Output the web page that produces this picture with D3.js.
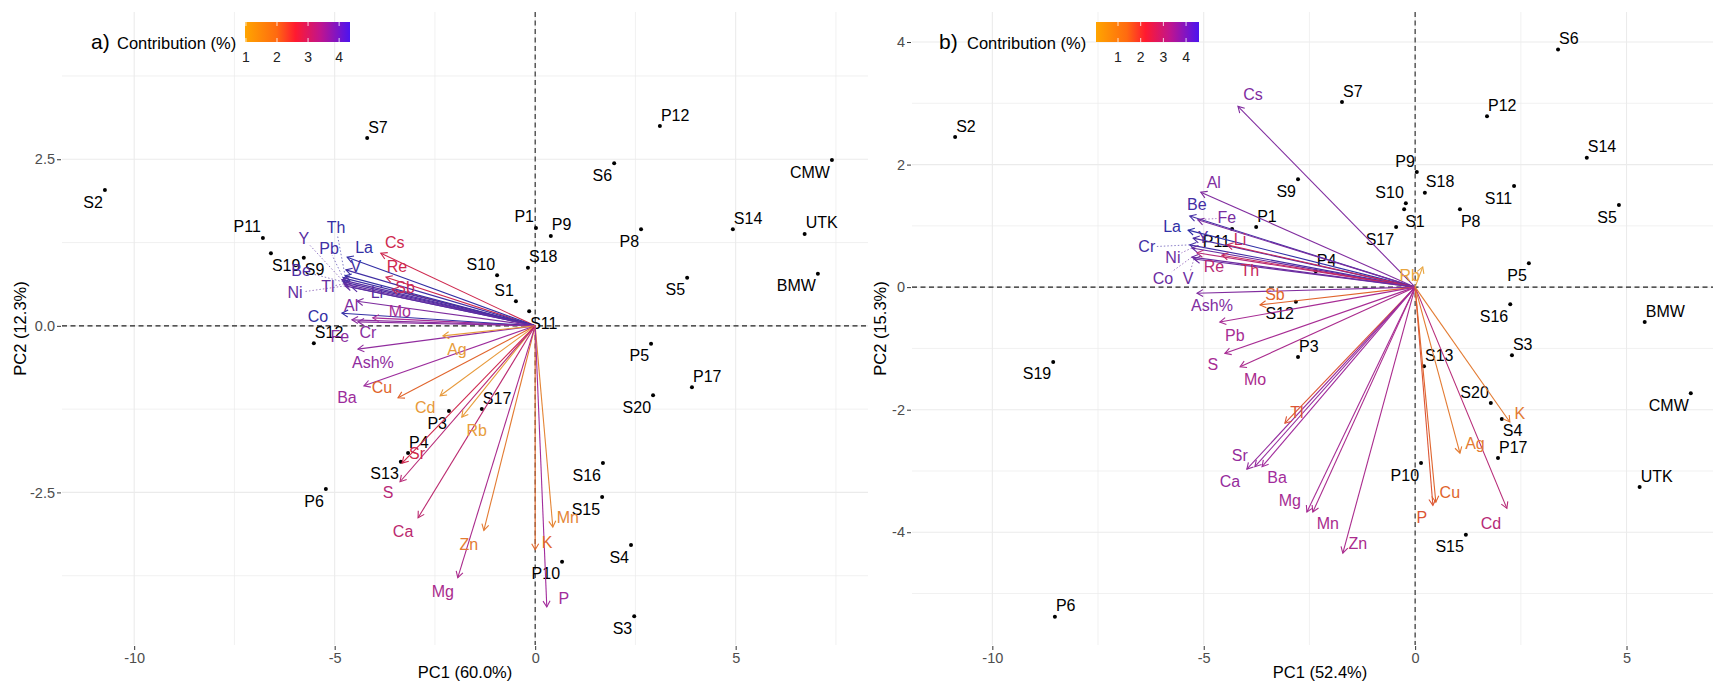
<!DOCTYPE html>
<html>
<head>
<meta charset="utf-8">
<title>PCA biplots</title>
<style>
  html, body {margin:0; padding:0; background:#fff;}
  svg {display:block;}
  text {font-family: "Liberation Sans", Arial, sans-serif;}
</style>
</head>
<body>
<svg id="chart" width="1713" height="687"></svg>
<script src="https://cdn.jsdelivr.net/npm/d3@7"></script>
<script>
// ---------- panel a) data ----------
const varsA = ['Cs','Re','Sb','La','V','Th','Pb','Y','Be','Tl','Ni','Li','Al','Mo','Co','Fe','Cr','Ash%','Ag','Ba','Cu','Cd','Rb','Sr','S','Ca','Zn','Mg','K','Mn','P'];
const pc1VarA = [-3.85,-3.72,-3.57,-4.69,-4.72,-4.74,-4.79,-4.82,-4.79,-4.77,-4.74,-4.57,-4.44,-4.05,-4.82,-4.57,-4.42,-4.42,-2.30,-4.27,-3.42,-2.37,-1.83,-3.32,-3.37,-2.92,-1.28,-1.93,0.00,0.44,0.29];
const pc2VarA = [1.09,0.73,0.55,1.03,0.84,0.75,0.72,0.69,0.66,0.63,0.60,0.58,0.37,0.12,0.19,0.09,0.06,-0.35,-0.15,-0.90,-1.08,-1.05,-1.37,-2.06,-2.34,-2.88,-3.07,-3.78,-3.36,-3.02,-4.22];
const contribA = [2.7,2.7,2.8,4.3,4.2,4.3,4.2,4.0,4.1,3.9,3.9,4.0,3.7,3.35,4.3,3.6,3.6,3.55,1.15,3.45,1.98,1.2,1.15,2.7,3.07,3.0,1.65,3.27,1.9,1.5,3.4];

const obsA = ['S2','S7','P11','S19','S9','S12','P12','S6','CMW','P1','P9','P8','S14','UTK','S18','S10','S1','S5','BMW','S11','P5','P17','S20','S17','P3','P4','S13','P6','S16','S15','S4','P10','S3'];
const pc1ObsA = [-10.73,-4.19,-6.79,-6.59,-5.77,-5.52,3.11,1.97,7.40,0.02,0.39,2.64,4.93,6.72,-0.18,-0.95,-0.48,3.79,7.05,-0.15,2.89,3.91,2.94,-1.33,-2.15,-3.17,-3.35,-5.22,1.69,1.67,2.39,0.67,2.47];
const pc2ObsA = [2.04,2.82,1.32,1.09,1.02,-0.26,3.00,2.44,2.49,1.47,1.35,1.45,1.45,1.38,0.87,0.76,0.37,0.72,0.78,0.22,-0.27,-0.92,-1.04,-1.25,-1.28,-1.91,-2.04,-2.45,-2.06,-2.57,-3.29,-3.54,-4.36];

const xTicksA = [-10,-5,0,5];
const yTicksA = [-2.5,0,2.5];
const legendTicksA = [1,2,3,4];

// ---------- panel b) data ----------
const varsB = ['Cs','Al','Be','Fe','La','Y','Cr','Li','Ni','Re','Th','Co','V','Ash%','Sb','Pb','S','Mo','Tl','Sr','Ca','Ba','Mg','Mn','Zn','P','Cu','Ag','Cd','K','Rb'];
const pc1VarB = [-4.19,-5.07,-5.33,-5.14,-5.37,-5.25,-5.33,-4.45,-5.28,-5.16,-4.57,-5.28,-5.23,-5.16,-3.67,-4.62,-4.50,-4.14,-3.08,-3.98,-3.79,-3.62,-2.56,-2.42,-1.71,0.42,0.49,1.06,2.17,2.24,0.18];
const pc2VarB = [2.95,1.55,1.16,1.10,0.93,0.80,0.69,0.69,0.64,0.56,0.52,0.49,0.46,-0.10,-0.29,-0.57,-1.08,-1.30,-2.22,-2.97,-2.93,-2.93,-3.67,-3.67,-4.34,-3.56,-3.51,-2.71,-3.61,-2.20,0.33];
const contribB = [3.66,3.66,4.34,3.75,4.55,4.25,4.34,2.53,3.9,2.85,2.53,3.9,3.9,3.66,1.39,3.2,3.2,3.12,1.62,3.44,3.44,3.3,3.2,3.12,3.12,1.62,1.39,0.94,2.85,0.94,0.12];

const obsB = ['S2','P1','S9','P11','P4','S12','P3','S6','S7','P12','S14','P9','S18','S11','S10','S1','P8','S5','S17','P5','S16','BMW','S3','S13','S20','S4','P17','CMW','UTK','P10','S15','S19','P6'];
const pc1ObsB = [-10.88,-3.76,-2.77,-4.33,-2.35,-2.82,-2.77,3.38,-1.73,1.70,4.06,0.04,0.23,2.34,-0.22,-0.26,1.06,4.82,-0.45,2.69,2.25,5.43,2.29,0.21,1.79,2.05,1.96,6.52,5.31,0.14,1.20,-8.56,-8.52];
const pc2ObsB = [2.45,0.98,1.76,0.95,0.26,-0.24,-1.14,3.88,3.02,2.79,2.11,1.88,1.54,1.65,1.37,1.27,1.27,1.34,0.98,0.39,-0.28,-0.57,-1.11,-1.29,-1.89,-2.15,-2.79,-1.73,-3.26,-2.87,-4.04,-1.22,-5.38];

const xTicksB = [-10,-5,0,5];
const yTicksB = [-4,-2,0,2,4];
const legendTicksB = [1,2,3,4];

// ---------- label placement (layout only) ----------
const obsDirA = {S2:'sw',S7:'ne',P11:'nw',S19:'se',S9:'se',S12:'ne',P12:'ne',S6:'sw',CMW:'sw',P1:'nw',P9:'ne',P8:'sw',S14:'ne',UTK:'ne',S18:'ne',S10:'nw',S1:'nw',S5:'sw',BMW:'sw',S11:'se',P5:'sw',P17:'ne',S20:'sw',S17:'ne',P3:'sw',P4:'ne',S13:'sw',P6:'sw',S16:'sw',S15:'sw',S4:'sw',P10:'sw',S3:'sw'};
const obsDirB = {S2:'ne',P1:'ne',S9:'sw',P11:'sw',P4:'ne',S12:'sw',P3:'ne',S6:'ne',S7:'ne',P12:'ne',S14:'ne',P9:'nw',S18:'ne',S11:'sw',S10:'nw',S1:'se',P8:'se',S5:'sw',S17:'sw',P5:'sw',S16:'sw',BMW:'ne',S3:'ne',S13:'ne',S20:'nw',S4:'se',P17:'ne',CMW:'sw',UTK:'ne',P10:'sw',S15:'sw',S19:'sw',P6:'ne'};
// pixel offset of a variable label's centre from its arrow tip
const varOffA = {Cs:[14,-11],Re:[11,-11],Sb:[13,-2],La:[17,-10],V:[10,-3],Th:[-9,-48],Pb:[-14,-29],Y:[-38,-41],Be:[-42,-11],Tl:[-16,3],Ni:[-50,7],Li:[25,5],Al:[-6,4],Mo:[27,-6],Co:[-24,3],Fe:[-12,17],Cr:[10,11],'Ash%':[15,13],Ag:[14,14],Ba:[-17,12],Cu:[-16,-10],Cd:[-15,12],Rb:[15,13],Sr:[15,-10],S:[-12,11],Ca:[-15,14],Zn:[-15,14],Mg:[-15,14],K:[12,-7],Mn:[15,-10],P:[17,-9]};
const varOffB = {Cs:[15,-12],Al:[13,-10],Be:[7,-12],Fe:[29,-2],La:[-16,-4],Y:[10,-1],Cr:[-43,2],Li:[13,-5],Ni:[-19,9],Re:[17,14],Th:[28,15],Co:[-29,21],V:[-6,19],'Ash%':[15,12],Sb:[15,-11],Pb:[15,13],S:[-12,11],Mo:[15,13],Tl:[12,-11],Sr:[-7,-14],Ca:[-25,15],Ba:[15,11],Mg:[-17,-12],Mn:[15,11],Zn:[15,-10],P:[-11,12],Cu:[14,-10],Ag:[15,-10],Cd:[-16,15],K:[10,-9],Rb:[-13,8]};
const leadersA = ['Th','Pb','Y','Be','Tl','Ni'];
const leadersB = ['Fe','Cr','Ni','Co','V'];

const svg = d3.select('#chart');
const defs = svg.append('defs');

const legendStops = [[0,'#FFA500'],[0.3,'#FF6A10'],[0.48,'#FF1A30'],[0.72,'#C0148E'],[1,'#4B14F0']];
const markScale = d3.scaleLinear()
  .domain([0,0.3,0.5,0.72,1])
  .range(['#E9A93E','#E0642C','#D0284A','#A22C9C','#2E2FA6']);

function drawPanel(cfg) {
  const x = d3.scaleLinear().domain(cfg.xDom).range([cfg.left, cfg.right]);
  const y = d3.scaleLinear().domain(cfg.yDom).range([cfg.bottom, cfg.top]);
  const cNorm = d3.scaleLinear().domain(cfg.cDom).range([0,1]).clamp(true);
  const col = c => markScale(cNorm(c));
  const g = svg.append('g');

  // grid
  g.selectAll('.gx').data(cfg.xMinor.concat(cfg.xTicks)).enter().append('line')
    .attr('x1', d => x(d)).attr('x2', d => x(d)).attr('y1', cfg.top).attr('y2', cfg.bottom)
    .attr('stroke', '#ebebeb').attr('stroke-width', (d) => cfg.xTicks.includes(d) ? 1.1 : 0.7);
  g.selectAll('.gy').data(cfg.yMinor.concat(cfg.yTicks)).enter().append('line')
    .attr('y1', d => y(d)).attr('y2', d => y(d)).attr('x1', cfg.left).attr('x2', cfg.right)
    .attr('stroke', '#ebebeb').attr('stroke-width', (d) => cfg.yTicks.includes(d) ? 1.1 : 0.7);

  // axes
  const ax = g.append('g').attr('transform', `translate(0,${cfg.bottom + 1})`)
    .call(d3.axisBottom(x).tickValues(cfg.xTicks).tickFormat(d => String(d)).tickSize(4).tickPadding(3));
  const ay = g.append('g').attr('transform', `translate(${cfg.left - 1},0)`)
    .call(d3.axisLeft(y).tickValues(cfg.yTicks).tickFormat(cfg.yFmt).tickSize(4).tickPadding(2));
  [ax, ay].forEach(a => {
    a.select('.domain').remove();
    a.selectAll('.tick line').attr('stroke', '#333').attr('stroke-width', 1);
    a.selectAll('.tick text').attr('fill', '#4d4d4d').style('font-size', '14.5px')
      .style('font-family', '"Liberation Sans", Arial, sans-serif');
  });

  // axis titles
  g.append('text').attr('x', (cfg.left + cfg.right) / 2).attr('y', 678)
    .attr('text-anchor', 'middle').style('font-size', '16.5px').text(cfg.xTitle);
  g.append('text').attr('transform', `translate(${cfg.yTitleX},${(cfg.top + cfg.bottom) / 2}) rotate(-90)`)
    .attr('text-anchor', 'middle').attr('dy', '0.35em').style('font-size', '16.5px').text(cfg.yTitle);

  // zero lines
  g.append('line').attr('x1', cfg.left).attr('x2', cfg.right).attr('y1', y(0)).attr('y2', y(0))
    .attr('stroke', '#222').attr('stroke-width', 1.1).attr('stroke-dasharray', '5,3.5');
  g.append('line').attr('x1', x(0)).attr('x2', x(0)).attr('y1', cfg.top).attr('y2', cfg.bottom)
    .attr('stroke', '#222').attr('stroke-width', 1.1).attr('stroke-dasharray', '5,3.5');

  // individuals
  const obs = cfg.obs.map((n, i) => ({name: n, x: cfg.pc1Obs[i], y: cfg.pc2Obs[i]}));
  g.selectAll('.dot').data(obs).enter().append('circle')
    .attr('cx', d => x(d.x)).attr('cy', d => y(d.y)).attr('r', 2).attr('fill', '#000');
  g.selectAll('.olab').data(obs).enter().append('text')
    .attr('x', d => {
      const dir = cfg.obsDir[d.name] || 'ne';
      return x(d.x) + (dir[1] === 'e' ? 1 : -2);
    })
    .attr('y', d => {
      const dir = cfg.obsDir[d.name] || 'ne';
      return y(d.y) + (dir[0] === 'n' ? -11 : 12);
    })
    .attr('dy', '0.35em')
    .attr('text-anchor', d => (cfg.obsDir[d.name] || 'ne')[1] === 'e' ? 'start' : 'end')
    .style('font-size', '16px').attr('fill', '#000')
    .text(d => d.name);

  // variables
  const vars = cfg.vars.map((n, i) => ({name: n, x: cfg.pc1Var[i], y: cfg.pc2Var[i], c: cfg.contrib[i]}));
  const x0 = x(0), y0 = y(0);
  g.selectAll('.arr').data(vars).enter().append('line')
    .attr('x1', x0).attr('y1', y0).attr('x2', d => x(d.x)).attr('y2', d => y(d.y))
    .attr('stroke', d => col(d.c)).attr('stroke-width', 1.1);
  g.selectAll('.head').data(vars).enter().append('path')
    .attr('d', d => {
      const tx = x(d.x), ty = y(d.y);
      const a = Math.atan2(ty - y0, tx - x0);
      const L = 7, w = Math.PI / 6;
      const p1 = [tx - L * Math.cos(a - w), ty - L * Math.sin(a - w)];
      const p2 = [tx - L * Math.cos(a + w), ty - L * Math.sin(a + w)];
      return `M${p1[0]},${p1[1]}L${tx},${ty}L${p2[0]},${p2[1]}`;
    })
    .attr('fill', 'none').attr('stroke', d => col(d.c)).attr('stroke-width', 1.1);

  const vlab = g.selectAll('.vlab').data(vars).enter().append('text')
    .attr('x', d => x(d.x) + (cfg.varOff[d.name] || [0,0])[0])
    .attr('y', d => y(d.y) + (cfg.varOff[d.name] || [0,0])[1])
    .attr('dy', '0.35em').attr('text-anchor', 'middle')
    .style('font-size', '16px').attr('fill', d => col(d.c))
    .text(d => d.name);

  // leader segments for labels pushed away from their tips
  vlab.filter(d => cfg.leaders.includes(d.name)).each(function(d) {
    const bb = this.getBBox();
    const tx = x(d.x), ty = y(d.y);
    const cx = bb.x + bb.width / 2, cy = bb.y + bb.height / 2;
    const dx = cx - tx, dy = cy - ty;
    const hw = bb.width / 2 + 1, hh = bb.height / 2 - 2;
    const s = Math.min(dx !== 0 ? hw / Math.abs(dx) : Infinity, dy !== 0 ? hh / Math.abs(dy) : Infinity);
    const t = 1 - s;
    if (t <= 0) return;
    g.append('line').attr('x1', tx).attr('y1', ty).attr('x2', tx + t * dx).attr('y2', ty + t * dy)
      .attr('stroke', col(d.c)).attr('stroke-opacity', 0.7).attr('stroke-width', 0.9)
      .attr('stroke-dasharray', '1.5,2');
  });

  // legend
  const lg = cfg.legend;
  const gid = 'grad' + cfg.id;
  const grad = defs.append('linearGradient').attr('id', gid).attr('x1', '0%').attr('x2', '100%');
  grad.selectAll('stop').data(legendStops).enter().append('stop')
    .attr('offset', d => d[0]).attr('stop-color', d => d[1]);
  const lx = d3.scaleLinear().domain(cfg.cDom).range([lg.bar0, lg.bar1]);
  svg.append('text').attr('x', lg.letterX).attr('y', 49).style('font-size', '21px').text(cfg.id + ')');
  svg.append('text').attr('x', lg.titleX).attr('y', 48.5).style('font-size', '16.5px').text('Contribution (%)');
  svg.append('rect').attr('x', lg.bar0).attr('y', 22).attr('width', lg.bar1 - lg.bar0).attr('height', 20)
    .attr('fill', `url(#${gid})`);
  cfg.legendTicks.forEach(v => {
    svg.append('line').attr('x1', lx(v)).attr('x2', lx(v)).attr('y1', 22).attr('y2', 26)
      .attr('stroke', '#fff').attr('stroke-opacity', 0.8);
    svg.append('line').attr('x1', lx(v)).attr('x2', lx(v)).attr('y1', 38).attr('y2', 42)
      .attr('stroke', '#fff').attr('stroke-opacity', 0.8);
    svg.append('text').attr('x', lx(v)).attr('y', 62).attr('text-anchor', 'middle')
      .style('font-size', '14px').attr('fill', '#222').text(v);
  });
}

drawPanel({
  id: 'a', left: 62, right: 868, top: 12, bottom: 645,
  xDom: [-11.8, 8.3], yDom: [-4.79, 4.71], cDom: [0.97, 4.35],
  xTicks: xTicksA, yTicks: yTicksA, xMinor: [-7.5,-2.5,2.5,7.5], yMinor: [-3.75,-1.25,1.25,3.75],
  yFmt: d => d.toFixed(1).replace('\u2212', '-'),
  xTitle: 'PC1 (60.0%)', yTitle: 'PC2 (12.3%)', yTitleX: 20,
  vars: varsA, pc1Var: pc1VarA, pc2Var: pc2VarA, contrib: contribA,
  obs: obsA, pc1Obs: pc1ObsA, pc2Obs: pc2ObsA,
  obsDir: obsDirA, varOff: varOffA, leaders: leadersA,
  legendTicks: legendTicksA,
  legend: {letterX: 91, titleX: 117, bar0: 245, bar1: 350}
});

drawPanel({
  id: 'b', left: 912, right: 1728, top: 12, bottom: 645,
  xDom: [-11.9, 7.4], yDom: [-5.84, 4.49], cDom: [0.03, 4.57],
  xTicks: xTicksB, yTicks: yTicksB, xMinor: [-7.5,-2.5,2.5], yMinor: [-5,-3,-1,1,3],
  yFmt: d => String(d),
  xTitle: 'PC1 (52.4%)', yTitle: 'PC2 (15.3%)', yTitleX: 880,
  vars: varsB, pc1Var: pc1VarB, pc2Var: pc2VarB, contrib: contribB,
  obs: obsB, pc1Obs: pc1ObsB, pc2Obs: pc2ObsB,
  obsDir: obsDirB, varOff: varOffB, leaders: leadersB,
  legendTicks: legendTicksB,
  legend: {letterX: 939, titleX: 967, bar0: 1096, bar1: 1199}
});
</script>
</body>
</html>
